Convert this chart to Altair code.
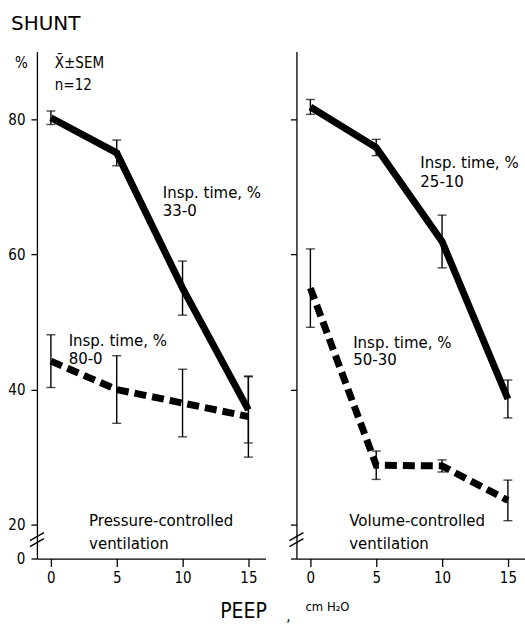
import altair as alt
import pandas as pd

FONT = "DejaVu Sans Condensed, Liberation Sans Narrow, DejaVu Sans"
WIDE = "DejaVu Sans"

# ---- data ----
peep = [0, 5, 10, 15]

pc_short_mean = [80.2, 75.0, 55.0, 37.0]   # pressure-controlled, insp. time 33-0 %
pc_short_sem = [1.0, 1.9, 4.0, 4.9]
pc_long_mean = [44.2, 40.0, 38.0, 36.0]    # pressure-controlled, insp. time 80-0 %
pc_long_sem = [3.9, 5.0, 5.0, 6.0]

vc_short_mean = [81.8, 75.8, 61.9, 38.6]   # volume-controlled, insp. time 25-10 %
vc_short_sem = [1.1, 1.2, 3.9, 2.8]
vc_long_mean = [55.0, 28.8, 28.7, 23.6]    # volume-controlled, insp. time 50-30 %
vc_long_sem = [5.8, 2.1, 0.9, 3.0]

y_tick_values = [15, 20, 40, 60, 80]

pc_notes = pd.DataFrame({
    "t": ["Insp. time, %", "33-0", "Insp. time, %", "80-0",
          "Pressure-controlled", "ventilation"],
    "x": [8.5, 8.5, 1.35, 1.35, 2.9, 2.9],
    "y": [69.1, 66.4, 47.2, 44.5, 20.5, 17.2],
})
stat_notes = pd.DataFrame({
    "t": ["X\u0304\u00b1SEM", "n=12"],
    "x": [0.3, 0.3],
    "y": [88.3, 85.0],
})
vc_notes = pd.DataFrame({
    "t": ["Insp. time, %", "25-10", "Insp. time, %", "50-30",
          "Volume-controlled", "ventilation"],
    "x": [8.35, 8.35, 3.25, 3.25, 2.95, 2.95],
    "y": [73.5, 70.7, 46.9, 44.3, 20.5, 17.2],
})

xscale = alt.Scale(domain=[-1.06, 16.3], nice=False, zero=False)
yscale = alt.Scale(domain=[15, 90], nice=False, zero=False)


def frame(mean, sem):
    return pd.DataFrame({
        "peep": peep,
        "mean": mean,
        "lo": [m - s for m, s in zip(mean, sem)],
        "hi": [m + s for m, s in zip(mean, sem)],
    })


def panel(s_mean, s_sem, l_mean, l_sem, notes, left):
    xaxis = alt.Axis(values=peep, title=None, grid=False, tickSize=8, tickWidth=1.3,
                     tickColor="black", domainColor="black", domainWidth=1.3,
                     labelFontSize=15, labelFont=FONT, labelColor="black", labelPadding=4)
    yaxis = alt.Axis(values=y_tick_values, title=None, grid=False, tickSize=6, tickWidth=1.3,
                     tickColor="black", domainColor="black", domainWidth=1.3,
                     labels=left, labelFontSize=15, labelFont=FONT, labelColor="black",
                     labelPadding=6,
                     labelExpr="datum.value == 15 ? '0' : datum.label")

    def X(f):
        return alt.X(f, type="quantitative", scale=xscale, axis=xaxis)

    def Y(f):
        return alt.Y(f, type="quantitative", scale=yscale, axis=yaxis)

    layers = []
    for mean, sem, dash in [(s_mean, s_sem, None), (l_mean, l_sem, [12, 6])]:
        df = frame(mean, sem)
        kw = dict(color="black", strokeWidth=7, strokeJoin="miter", strokeCap="butt")
        if dash:
            kw["strokeDash"] = dash
        layers.append(alt.Chart(df).mark_line(**kw).encode(x=X("peep"), y=Y("mean")))
        layers.append(alt.Chart(df).mark_rule(color="black", strokeWidth=1.4)
                      .encode(x=X("peep"), y=Y("lo"), y2="hi"))
        for f in ["lo", "hi"]:
            layers.append(alt.Chart(df).mark_tick(color="black", orient="horizontal",
                                                  size=9, thickness=1.4)
                          .encode(x=X("peep"), y=Y(f)))
    layers.append(alt.Chart(notes).mark_text(align="left", baseline="middle", fontSize=15,
                                             font=WIDE, color="black")
                  .encode(x=X("x"), y=Y("y"), text="t:N"))
    # axis break marks
    dummy = pd.DataFrame({"k": [0]})
    for dy in [0, 6]:
        layers.append(alt.Chart(dummy).mark_rule(color="black", strokeWidth=1.4)
                      .encode(x=alt.value(-7), x2=alt.value(7),
                              y=alt.value(490 + dy), y2=alt.value(482 + dy)))
    if left:
        layers.append(alt.Chart(stat_notes).mark_text(align="left", baseline="middle",
                                                      fontSize=15, font=FONT, color="black")
                      .encode(x=X("x"), y=Y("y"), text="t:N"))
        extra = [
            ("SHUNT", -26, -28, 20, "left", WIDE),
            ("%", -22, 12, 15, "left", FONT),
            ("PEEP", 207, 562, 21, "center", FONT),
            (",", 252, 566, 15, "center", FONT),
            ("cm H\u2082O", 269, 557, 13, "left", FONT),
        ]
        for t, px, py, fs, al, fnt in extra:
            layers.append(alt.Chart(dummy).mark_text(text=t, fontSize=fs, font=fnt,
                                                     color="black", align=al,
                                                     baseline="middle")
                          .encode(x=alt.value(px), y=alt.value(py)))
    return alt.layer(*layers).properties(width=229, height=508)


left_panel = panel(pc_short_mean, pc_short_sem, pc_long_mean, pc_long_sem, pc_notes, True)
right_panel = panel(vc_short_mean, vc_short_sem, vc_long_mean, vc_long_sem, vc_notes, False)

chart = (
    alt.hconcat(left_panel, right_panel, spacing=31, bounds="flush")
    .properties(padding={"left": 7, "top": 13, "right": 0, "bottom": 0},
                background="white")
    .configure_view(stroke=None)
)

chart.save("out.html", embed_options={"renderer": "svg", "actions": False})
